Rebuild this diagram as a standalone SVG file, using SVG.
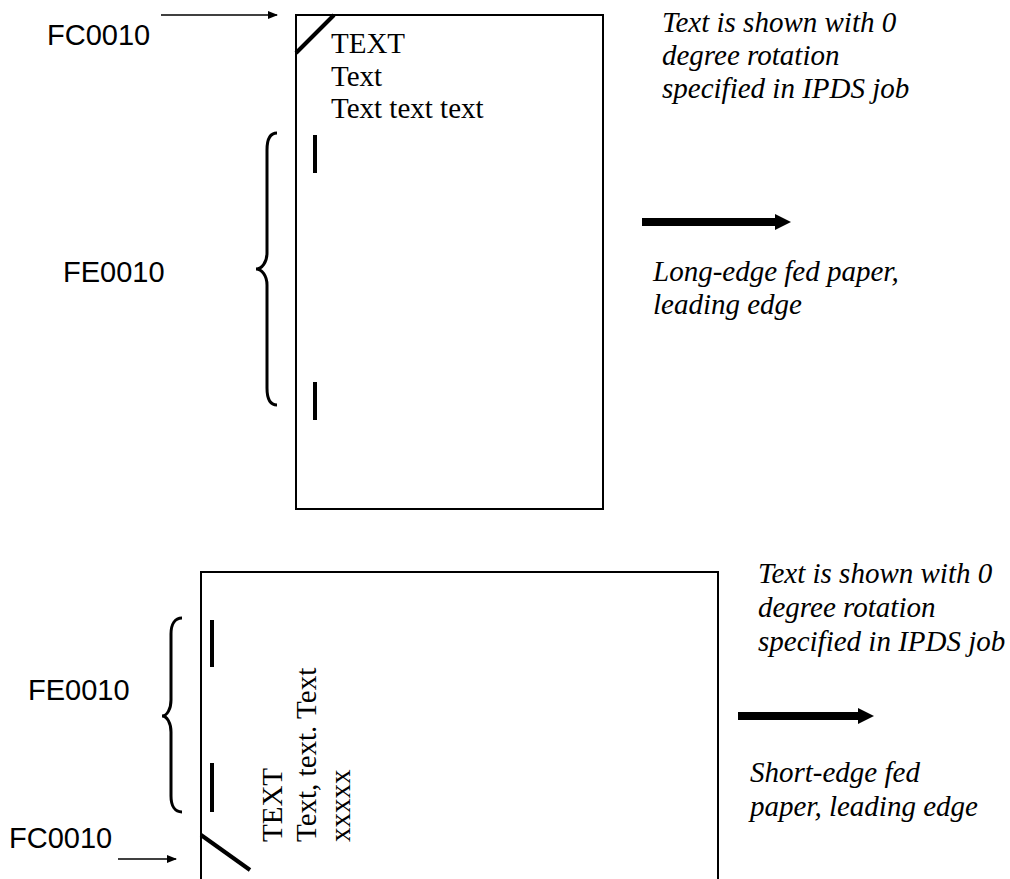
<svg xmlns="http://www.w3.org/2000/svg" width="1010" height="879" viewBox="0 0 1010 879">
<style>
.sans{font-family:"Liberation Sans",Arial,sans-serif;font-size:29px;fill:#000}
.serif{font-family:"Liberation Serif","Times New Roman",serif;font-size:29px;fill:#000}
.ital{font-family:"Liberation Serif","Times New Roman",serif;font-size:29px;font-style:italic;fill:#000}
.page{fill:#fff;stroke:#000;stroke-width:2}
.mark{stroke:#000;stroke-width:4;fill:none}
.brace{stroke:#000;stroke-width:3;fill:none}
.thin{stroke:#000;stroke-width:1.5;fill:none}
.thick{stroke:#000;stroke-width:8;fill:none}
</style>
<defs>
<marker id="sm" markerWidth="10" markerHeight="8" refX="9" refY="4" orient="auto" markerUnits="userSpaceOnUse"><path d="M0,0 L10,4 L0,8 Z" fill="#000"/></marker>
<marker id="bg" markerWidth="16" markerHeight="16" refX="0" refY="8" orient="auto" markerUnits="userSpaceOnUse"><path d="M0,0 L16,8 L0,16 Z" fill="#000"/></marker>
</defs>
<g id="page-long">
<rect class="page" x="296" y="15" width="307" height="494"/>
<line class="mark" x1="296" y1="53" x2="334" y2="15"/>
<text class="serif" x="331" y="53">TEXT</text>
<text class="serif" x="331" y="86">Text</text>
<text class="serif" x="331" y="118">Text text text</text>
<line class="mark" x1="315" y1="135" x2="315" y2="173"/>
<line class="mark" x1="315" y1="382" x2="315" y2="420"/>
</g>
<g id="label-fc-top"><text class="sans" x="47" y="45">FC0010</text></g>
<g id="label-fe-top">
<text class="sans" x="63" y="282">FE0010</text>
<path class="brace" d="M277,133 C270,133 267,140 267,150 L267,253 C267,262 262,269 256,269 C262,269 267,276 267,285 L267,388 C267,398 270,405 277,405"/>
</g>
<g id="note-top">
<text class="ital" x="662" y="32">Text is shown with 0</text>
<text class="ital" x="662" y="65">degree rotation</text>
<text class="ital" x="662" y="98">specified in IPDS job</text>
<text class="ital" x="653" y="281">Long-edge fed paper,</text>
<text class="ital" x="653" y="314">leading edge</text>
</g>
<g id="page-short">
<rect class="page" x="201" y="572" width="517" height="320"/>
<line class="mark" x1="201" y1="835" x2="250" y2="870"/>
<line class="mark" x1="212" y1="620" x2="212" y2="667"/>
<line class="mark" x1="212" y1="763" x2="212" y2="812"/>
<text class="serif" transform="translate(282,842) rotate(-90)">TEXT</text>
<text class="serif" transform="translate(316,842) rotate(-90)">Text, text. Text</text>
<text class="serif" transform="translate(350,842) rotate(-90)">xxxxx</text>
</g>
<g id="label-fe-bottom">
<text class="sans" x="28" y="700">FE0010</text>
<path class="brace" d="M182,618 C175,618 171,624 171,634 L171,700 C171,709 167,716 162,716 C167,716 171,723 171,732 L171,796 C171,806 175,812 182,812"/>
</g>
<g id="label-fc-bottom"><text class="sans" x="9" y="848">FC0010</text></g>
<g id="note-bottom">
<text class="ital" x="758" y="583">Text is shown with 0</text>
<text class="ital" x="758" y="617">degree rotation</text>
<text class="ital" x="758" y="651">specified in IPDS job</text>
<text class="ital" x="750" y="782">Short-edge fed</text>
<text class="ital" x="750" y="816">paper, leading edge</text>
</g>
<g id="connectors">
<line class="thin" x1="161" y1="15" x2="277" y2="15" marker-end="url(#sm)"/>
<line class="thin" x1="118" y1="859" x2="176" y2="859" marker-end="url(#sm)"/>
<line class="thick" x1="642" y1="222" x2="775" y2="222" marker-end="url(#bg)"/>
<line class="thick" x1="738" y1="716" x2="858" y2="716" marker-end="url(#bg)"/>
</g>
</svg>
